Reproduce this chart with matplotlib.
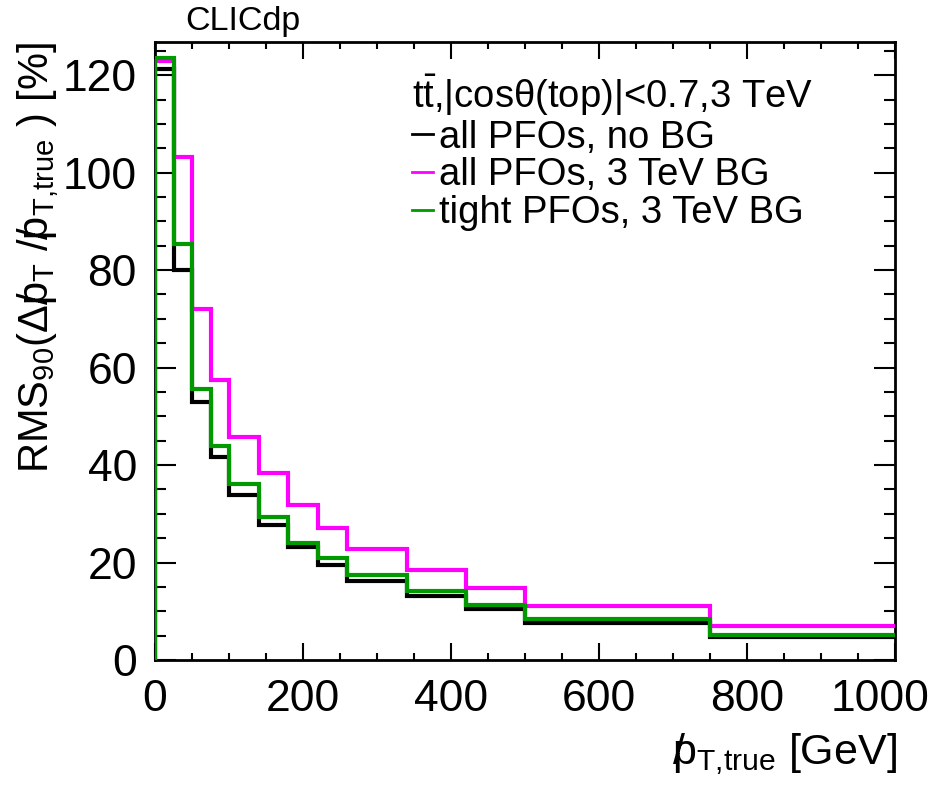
import matplotlib
matplotlib.use("Agg")
import matplotlib.pyplot as plt
import matplotlib.transforms as mtransforms
from matplotlib.lines import Line2D
from matplotlib.ticker import MultipleLocator

plt.rcParams['font.family'] = ['Liberation Sans', 'DejaVu Sans']
plt.rcParams['mathtext.fontset'] = 'custom'
plt.rcParams['mathtext.rm'] = 'Liberation Sans'
plt.rcParams['mathtext.it'] = 'Liberation Sans:italic'
plt.rcParams['mathtext.bf'] = 'Liberation Sans:bold'
plt.rcParams['mathtext.default'] = 'regular'

# pT,true bins [GeV] and RMS90 of the pT resolution [%]
bin_edges = [0, 25, 50, 75, 100, 140, 180, 220, 260, 340, 420, 500, 750, 1000]
rms_all_nobg = [121.2, 80.0, 53.0, 41.6, 33.8, 27.8, 23.2, 19.5, 16.3, 13.2, 10.5, 7.5, 4.7]
rms_all_bg3 = [122.9, 103.2, 72.0, 57.4, 45.8, 38.3, 31.9, 27.1, 22.85, 18.5, 14.8, 11.1, 7.0]
rms_tight_bg3 = [123.5, 85.3, 55.7, 44.0, 36.2, 29.3, 24.1, 21.0, 17.35, 14.2, 11.3, 8.4, 5.1]

series = [
    (rms_all_nobg, '#000000', 'all PFOs, no BG'),
    (rms_all_bg3, '#ff00ff', 'all PFOs, 3 TeV BG'),
    (rms_tight_bg3, '#009900', 'tight PFOs, 3 TeV BG'),
]
header = r"t$\bar{t}$,|cosθ(top)|<0.7,3 TeV"

W, H = 942, 790
fig = plt.figure(figsize=(W / 100, H / 100), dpi=100)
ax = fig.add_axes([155 / W, 130 / H, 740 / W, 618 / H])

for values, color, label in series:
    ax.stairs(values, bin_edges, baseline=None, color=color, lw=3.0, zorder=3)
    ax.vlines(bin_edges[0], 0, values[0], color=color, lw=3.0, zorder=3)

ax.set_xlim(bin_edges[0], bin_edges[-1])
ax.set_ylim(0, 126.8)

ax.xaxis.set_major_locator(MultipleLocator(200))
ax.xaxis.set_minor_locator(MultipleLocator(50))
ax.yaxis.set_major_locator(MultipleLocator(20))
ax.yaxis.set_minor_locator(MultipleLocator(5))
ax.tick_params(which='both', direction='in', top=True, right=True, width=1.5,
               labelsize=32)
ax.tick_params(axis='x', which='major', length=12, pad=14)
ax.tick_params(axis='x', which='minor', length=5)
ax.tick_params(axis='y', which='major', length=15, pad=13)
ax.tick_params(axis='y', which='minor', length=7.7)
for s in ax.spines.values():
    s.set_linewidth(2.0)
ax.spines['left'].set_zorder(1)

# keep the label at the right end of the x axis inside the canvas
fig.canvas.draw()
shift = mtransforms.ScaledTranslation(-15 / 100, 0, fig.dpi_scale_trans)
for tick in ax.xaxis.get_major_ticks():
    if abs(tick.get_loc() - bin_edges[-1]) < 1e-6:
        tick.label1.set_transform(tick.label1.get_transform() + shift)

fig.text(897 / W, 1 - 764 / H, r"$/\!\!p_{T{,}true}$ [GeV]", fontsize=31,
         ha='right', va='baseline')
fig.text(48 / W, 1 - 42 / H,
         r"RMS$_{90}$(Δ$/\!\!p_{T}$ /$/\!\!p_{T{,}true}$ ) [%]",
         fontsize=30, rotation=90, rotation_mode='anchor',
         ha='right', va='baseline')
fig.text(185 / W, 1 - 30 / H, "CLICdp", fontsize=24.5, ha='left', va='baseline')

handles = [Line2D([], [], color=c, lw=2.0) for _, c, _ in series]
labels = [lab for _, _, lab in series]
ax.legend(handles, labels, title=header, loc='upper left',
          bbox_to_anchor=(412 / W, 1 - 73 / H), bbox_transform=fig.transFigure,
          frameon=False, fontsize=27.5, title_fontsize=27.5, alignment='left',
          handlelength=0.55, handletextpad=0.15, labelspacing=0.04,
          borderpad=0, borderaxespad=0)

fig.savefig("out.png", dpi=100)
